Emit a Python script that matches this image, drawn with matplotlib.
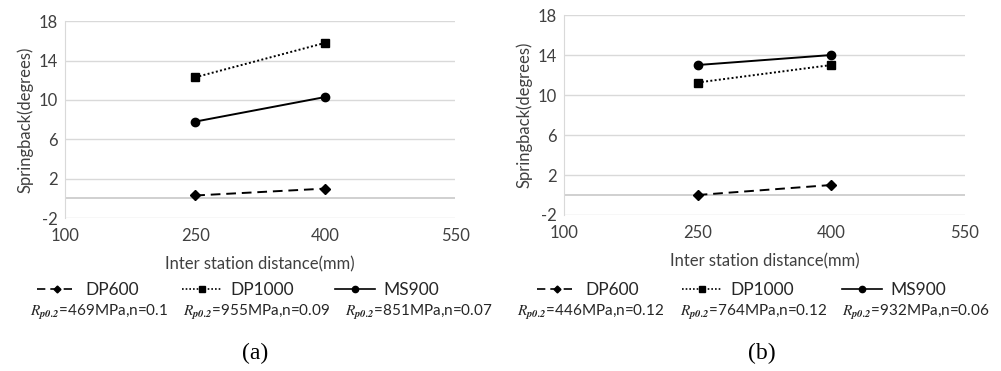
import matplotlib
matplotlib.use("Agg")
import matplotlib.pyplot as plt
from matplotlib.lines import Line2D

plt.rcParams['font.family'] = ['Lato', 'DejaVu Sans']
plt.rcParams['mathtext.fontset'] = 'stix'
plt.rcParams['axes.unicode_minus'] = False

distance = [250, 400]
x_ticks = [100, 250, 400, 550]
y_ticks = [-2, 2, 6, 10, 14, 18]

# panel (a)
a_dp600 = [0.3, 1.0]
a_dp1000 = [12.3, 15.8]
a_ms900 = [7.8, 10.3]
a_props = ["=469MPa,n=0.1", "=955MPa,n=0.09", "=851MPa,n=0.07"]

# panel (b)
b_dp600 = [0.0, 1.0]
b_dp1000 = [11.25, 13.0]
b_ms900 = [13.0, 14.0]
b_props = ["=446MPa,n=0.12", "=764MPa,n=0.12", "=932MPa,n=0.06"]

names = ["DP600", "DP1000", "MS900"]
styles = [dict(ls=(0, (5, 3)), marker='D', ms=5),
          dict(ls=(0, (1, 1.2)), marker='s', ms=6),
          dict(ls='-', marker='o', ms=6)]

fig = plt.figure(figsize=(10.01, 3.71), dpi=100)
ax_a = fig.add_axes([0.065, 0.412, 0.39, 0.531])
ax_b = fig.add_axes([0.5634, 0.4205, 0.4006, 0.539])


def draw(ax, series):
    for vals, st in zip(series, styles):
        ax.plot(distance, vals, color='black', lw=1.4, **st)
    ax.set_xlim(100, 550)
    ax.set_ylim(-2, 18)
    ax.set_xticks(x_ticks)
    ax.set_yticks(y_ticks)
    ax.grid(axis='y', color='#d9d9d9', lw=1)
    ax.axhline(0, color='#c8c8c8', lw=1.2, zorder=1)
    ax.set_axisbelow(True)
    for s in ['top', 'right', 'bottom']:
        ax.spines[s].set_visible(False)
    ax.spines['left'].set_color('#d9d9d9')
    ax.tick_params(length=0, labelsize=12, colors='#404040')
    ax.tick_params(axis='x', pad=7)
    ax.tick_params(axis='y', pad=5)
    ax.set_xlabel("Inter station distance(mm)", fontsize=12, color='#404040', labelpad=9)
    ax.set_ylabel("Springback(degrees)", fontsize=12, color='#404040', labelpad=4)


draw(ax_a, [a_dp600, a_dp1000, a_ms900])
draw(ax_b, [b_dp600, b_dp1000, b_ms900])

handles = [Line2D([], [], color='black', lw=1.2, ls=st['ls'], marker=st['marker'],
                  ms=st['ms'] - 1.5) for st in styles]

# legend rows, drawn as text under each panel
leg_a = [(45, 88), (190, 232), (343, 385)]
prop_a = [30, 183, 345]
leg_b = [(545, 588), (690, 735), (850, 893)]
prop_b = [517, 680, 842]

for legs, props, texts in [(leg_a, prop_a, a_props), (leg_b, prop_b, b_props)]:
    for (hx, tx), h, name in zip(legs, handles, names):
        leg = fig.legend([h], [name], loc='center left',
                         bbox_to_anchor=(hx / 1001 - 0.008, 1 - 290 / 371),
                         frameon=False, fontsize=12.5, handlelength=2.3,
                         handletextpad=0.5, borderaxespad=0, borderpad=0)
        for t in leg.get_texts():
            t.set_color('#262626')
    for px, txt in zip(props, texts):
        fig.text(px / 1001, 1 - 312 / 371, r"$R_{\mathbfit{p0.2}}$" + txt,
                 fontsize=11, va='center', ha='left', color='#262626')

fig.text(255 / 1001, 1 - 353 / 371, "(a)", family='Liberation Serif',
         fontsize=17, ha='center', va='center')
fig.text(762 / 1001, 1 - 353 / 371, "(b)", family='Liberation Serif',
         fontsize=17, ha='center', va='center')

fig.savefig("out.png", dpi=100)
